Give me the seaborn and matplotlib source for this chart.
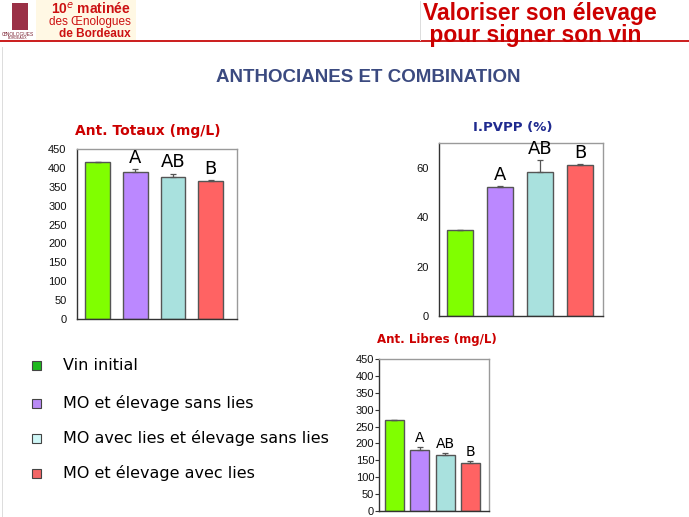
import matplotlib
matplotlib.use("Agg")
import matplotlib.pyplot as plt
import matplotlib.patches as mpatches
import seaborn as sns
import pandas as pd

# data
groups = ["Vin initial", "MO et élevage sans lies",
          "MO avec lies et élevage sans lies", "MO et élevage avec lies"]
letters = ["", "A", "AB", "B"]

ant_totaux = [415, 390, 376, 364]
ant_totaux_err = [0, 8, 9, 5]

pvpp = [34.6, 52.1, 58.3, 60.9]
pvpp_err = [0, 0.6, 4.7, 0.6]

ant_libres = [268, 181, 166, 142]
ant_libres_err = [0, 8, 5, 5]

bar_colors = ["#80FF00", "#BB88FF", "#A9E1DE", "#FF6363"]
legend_colors = ["#1DB81D", "#B98AF5", "#CFF7F7", "#F26666"]

sns.set_style("white")
plt.rcParams["font.family"] = ["Liberation Sans", "DejaVu Sans"]

W, H = 689, 517
fig = plt.figure(figsize=(W / 100, H / 100), dpi=100)
fig.patch.set_facecolor("white")


def box(l, t, r, b):
    return [l / W, 1 - b / H, (r - l) / W, (b - t) / H]


def px(x, y):
    return x / W, 1 - y / H


def draw_chart(rect, values, errs, xlim, ylim, yticks, width, letter_size, tick_marks):
    ax = fig.add_axes(rect)
    df = pd.DataFrame({"g": groups, "v": values})
    sns.barplot(data=df, x="g", y="v", hue="g", palette=bar_colors, legend=False,
                saturation=1, width=width, edgecolor="#555555", linewidth=1, ax=ax)
    ax.errorbar(range(4), values, yerr=[[0] * 4, errs], fmt="none",
                ecolor="#555555", elinewidth=0.9, capsize=2.5, capthick=0.9)
    for i, (v, e, t) in enumerate(zip(values, errs, letters)):
        if t:
            ax.annotate(t, (i, v + e), xytext=(0, 1.5), textcoords="offset points",
                        ha="center", va="bottom", fontsize=letter_size,
                        family=["DejaVu Sans"], color="black")
    ax.set_xlim(*xlim)
    ax.set_ylim(*ylim)
    ax.set_yticks(yticks)
    ax.set_xticks([])
    ax.set_xlabel("")
    ax.set_ylabel("")
    for s in ax.spines.values():
        s.set_color("#9A9A9A")
        s.set_linewidth(1)
    ax.spines["left"].set_color("#333333")
    ax.spines["bottom"].set_color("#333333")
    if tick_marks:
        ax.tick_params(axis="y", left=True, length=3, width=0.8, color="#333333",
                       pad=0.5, labelsize=8, labelcolor="#111111")
    else:
        ax.tick_params(axis="y", left=False, pad=4, labelsize=8, labelcolor="#111111")
    return ax


draw_chart(box(77, 149, 237, 319), ant_totaux, ant_totaux_err, (-0.55, 3.7), (0, 450),
           range(0, 451, 50), 0.66, 13, False)
draw_chart(box(439, 143, 603, 316), pvpp, pvpp_err, (-0.52, 3.57), (0, 70),
           [0, 20, 40, 60], 0.65, 13, False)
draw_chart(box(379, 359, 489, 511), ant_libres, ant_libres_err, (-0.61, 3.73), (0, 450),
           range(0, 451, 50), 0.75, 10, True)

# chart titles
fig.text(*px(148, 131), "Ant. Totaux (mg/L)", ha="center", va="center", color="#CC0000",
         fontsize=10, fontweight="bold", family=["DejaVu Sans"])
fig.text(*px(513, 128), "I.PVPP (%)", ha="center", va="center", color="#1F2A8F",
         fontsize=9.5, fontweight="bold", family=["DejaVu Sans"])
fig.text(*px(437, 339), "Ant. Libres (mg/L)", ha="center", va="center", color="#CC0000",
         fontsize=8.5, fontweight="bold", family=["DejaVu Sans"])

# main title
fig.text(*px(368, 78), "ANTHOCIANES ET COMBINATION", ha="center", va="center",
         color="#3B4A80", fontsize=13.5, fontweight="bold")

# legend
for yy, c, g in zip([365, 403, 438, 473], legend_colors, groups):
    fig.patches.append(mpatches.Rectangle(px(32, yy + 4.5), 8.5 / W, 9 / H, facecolor=c,
                                          edgecolor="#444444", linewidth=0.8,
                                          transform=fig.transFigure))
    fig.text(*px(63, yy), g, ha="left", va="center", fontsize=11.5, color="black",
             family=["DejaVu Sans"])

# header
fig.patches.append(mpatches.Rectangle(px(36, 40), 100 / W, 40 / H, facecolor="#FFF8E4",
                                      edgecolor="none", transform=fig.transFigure))
fig.patches.append(mpatches.Rectangle(px(0, 42), 1, 1.6 / H, facecolor="#CC2222",
                                      edgecolor="none", transform=fig.transFigure))
fig.patches.append(mpatches.Rectangle(px(12, 30), 16 / W, 27 / H, facecolor="#9A3046",
                                      edgecolor="none", transform=fig.transFigure))
fig.text(*px(18, 34), "ŒNOLOGUES", ha="center", va="center", fontsize=3.5, color="#7A2030")
fig.text(*px(18, 38), "BORDEAUX", ha="center", va="center", fontsize=2.5, color="#7A2030")
fig.text(*px(131, 9), "10$^{e}$ matinée", ha="right", va="center", fontsize=10,
         fontweight="bold", color="#CC1111")
fig.text(*px(131, 22), "des Œnologues", ha="right", va="center", fontsize=8.5,
         color="#CC1111")
fig.text(*px(131, 34), "de Bordeaux", ha="right", va="center", fontsize=8.5,
         fontweight="bold", color="#CC1111")
fig.patches.append(mpatches.Rectangle(px(420, 41), 0.8 / W, 40 / H, facecolor="#DDDDDD",
                                      edgecolor="none", transform=fig.transFigure))
fig.text(*px(423, 2), "Valoriser son élevage\n pour signer son vin", ha="left", va="top",
         fontsize=16.5, fontweight="bold", color="#CC0000", linespacing=0.92)
fig.patches.append(mpatches.Rectangle(px(2, 517), 1 / W, 470 / H, facecolor="#DDDDDD",
                                      edgecolor="none", transform=fig.transFigure))

fig.savefig("out.png", dpi=100)
